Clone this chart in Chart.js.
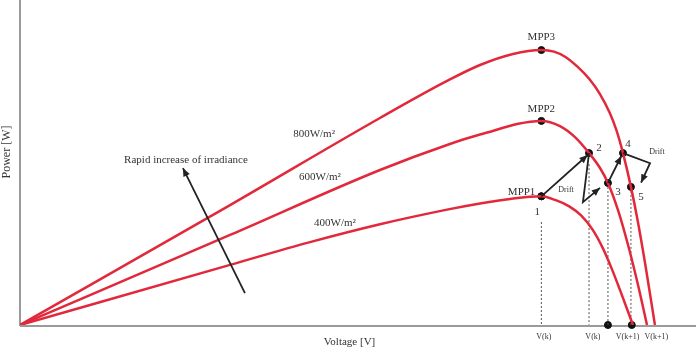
<!DOCTYPE html>
<html><head><meta charset="utf-8">
<script src="https://cdn.jsdelivr.net/npm/chart.js@4/dist/chart.umd.min.js"></script>
<style>html,body{margin:0;padding:0;background:#fff}canvas{display:block}</style>
</head><body>
<canvas id="c" width="696" height="355"></canvas>
<script>
// P-V curves (Voltage [V], Power [W])
const v800 = [0, 12.43, 21.30, 25.27, 27.22, 29.17, 30.85, 31.6, 32.3, 33.0, 33.7, 34.3, 34.9, 35.3, 35.68, 36.15, 36.55, 37.0, 37.57];
const p800 = [0, 36.9, 63.7, 75.1, 80.0, 83.4, 84.6, 84.1, 82.4, 79.4, 75.6, 71.2, 65.2, 59.8, 52.9, 42.5, 32.1, 18.6, 0];
const v600 = [0, 12.43, 21.30, 25.27, 27.22, 30.85, 31.95, 32.84, 33.67, 34.32, 34.79, 35.38, 35.98, 36.57, 37.10];
const p600 = [0, 27.7, 47.7, 55.4, 58.6, 62.8, 61.2, 57.8, 52.9, 48.3, 43.7, 35.4, 24.6, 12.3, 0];
const v400 = [0, 12.43, 17.16, 21.30, 25.27, 27.22, 29.0, 30.85, 31.7, 32.5, 33.2, 33.9, 34.5, 35.0, 35.5, 36.27];
const p400 = [0, 18.5, 25.5, 31.0, 35.5, 37.4, 38.8, 39.6, 38.4, 36.5, 33.7, 29.2, 23.5, 17.5, 10.8, 0];
const curveNames = ["800W/m\u00B2", "600W/m\u00B2", "400W/m\u00B2"];

// maximum power points
const mppV = [30.85, 30.85, 30.85];
const mppP = [39.6, 62.8, 84.6];
const mppNames = ["MPP1", "MPP2", "MPP3"];

// tracking points 1..5
const trackV = [30.85, 33.67, 34.79, 35.68, 36.15];
const trackP = [39.6, 52.9, 43.7, 52.9, 42.5];
const trackNames = ["1", "2", "3", "4", "5"];

// dotted guides (voltage, start power) and voltage labels
const guideV = [30.85, 33.67, 34.79, 36.15];
const guideTop = [31.7, 49.5, 43.7, 42.5];
const axisDotV = [34.79, 36.20];
const vLabelV = [31.0, 33.9, 35.95, 37.65];
const vLabels = ["V(k)", "V(k)", "V(k+1)", "V(k+1)"];

const pts = (xs, ys) => xs.map((x, i) => ({x: x, y: ys[i]}));
const RED = '#e2283b';

const datasets = [
  {label: curveNames[0], data: pts(v800, p800)},
  {label: curveNames[1], data: pts(v600, p600)},
  {label: curveNames[2], data: pts(v400, p400)}
].map(d => Object.assign(d, {borderColor: RED, borderWidth: 2.5, pointRadius: 0, cubicInterpolationMode: 'monotone', fill: false}));

guideV.forEach((v, i) => datasets.push({
  label: 'guide' + i, data: [{x: v, y: guideTop[i]}, {x: v, y: 0}],
  borderColor: '#555', borderWidth: 1, borderDash: [2, 2], pointRadius: 0
}));
datasets.push({label: 'mpp', data: pts(mppV, mppP), showLine: false, pointRadius: 3.5, pointBackgroundColor: '#111', pointBorderColor: '#111'});
datasets.push({label: 'track', data: pts(trackV, trackP), showLine: false, pointRadius: 3.5, pointBackgroundColor: '#111', pointBorderColor: '#111'});
datasets.push({label: 'axisdots', data: axisDotV.map(v => ({x: v, y: 0})), showLine: false, pointRadius: 3.5, pointBackgroundColor: '#111', pointBorderColor: '#111', clip: false});

function arrowHead(ctx, x0, y0, x1, y1, size) {
  const a = Math.atan2(y1 - y0, x1 - x0);
  ctx.beginPath();
  ctx.moveTo(x1, y1);
  ctx.lineTo(x1 - size * Math.cos(a - 0.4), y1 - size * Math.sin(a - 0.4));
  ctx.lineTo(x1 - size * Math.cos(a + 0.4), y1 - size * Math.sin(a + 0.4));
  ctx.closePath();
  ctx.fill();
}

const deco = {
  id: 'deco',
  beforeDatasetsDraw(chart) {
    const ctx = chart.ctx, a = chart.chartArea;
    ctx.save();
    ctx.strokeStyle = '#9a9a9a';
    ctx.lineWidth = 2;
    ctx.beginPath();
    ctx.moveTo(a.left, 0); ctx.lineTo(a.left, a.bottom + 1);
    ctx.moveTo(a.left, a.bottom + 1); ctx.lineTo(chart.width, a.bottom + 1);
    ctx.stroke();
    ctx.restore();
  },
  afterDatasetsDraw(chart) {
    const ctx = chart.ctx, xs = chart.scales.x, ys = chart.scales.y;
    const X = v => xs.getPixelForValue(v), Y = p => ys.getPixelForValue(p);
    ctx.save();
    // arrows (polyline, head at end)
    const arrows = [
      [[trackV[0], trackP[0]], [trackV[1] - 0.08, trackP[1] - 0.6]],
      [[trackV[1], trackP[1]], [33.31, 37.8], [34.32, 42.2]],
      [[trackV[2], trackP[2]], [35.58, 52.0]],
      [[trackV[3], trackP[3]], [37.28, 49.8], [36.75, 43.8]],
      [[13.31, 9.8], [9.64, 48.3]]
    ];
    ctx.strokeStyle = '#222'; ctx.fillStyle = '#222'; ctx.lineWidth = 1.8;
    arrows.forEach(pl => {
      ctx.beginPath();
      pl.forEach((p, i) => i ? ctx.lineTo(X(p[0]), Y(p[1])) : ctx.moveTo(X(p[0]), Y(p[1])));
      ctx.stroke();
      const n = pl.length;
      arrowHead(ctx, X(pl[n - 2][0]), Y(pl[n - 2][1]), X(pl[n - 1][0]), Y(pl[n - 1][1]), 9);
    });
    // texts
    ctx.fillStyle = '#333';
    ctx.textBaseline = 'middle';
    ctx.textAlign = 'center';
    ctx.font = '11px "Liberation Serif"';
    ctx.fillText(mppNames[2], X(mppV[2]), Y(mppP[2]) - 13);
    ctx.fillText(mppNames[1], X(mppV[1]), Y(mppP[1]) - 12);
    ctx.textAlign = 'right';
    ctx.fillText(mppNames[0], X(mppV[0]) - 6, Y(mppP[0]) - 4);
    ctx.textAlign = 'center';
    const off = [[-4, 16], [10, -5], [10, 9], [5, -9], [10, 10]];
    trackNames.forEach((t, i) => ctx.fillText(t, X(trackV[i]) + off[i][0], Y(trackP[i]) + off[i][1]));
    ctx.font = '8px "Liberation Serif"';
    ctx.fillText('Drift', X(32.31), Y(41.5));
    ctx.fillText('Drift', X(37.69), Y(53.2));
    vLabels.forEach((t, i) => ctx.fillText(t, X(vLabelV[i]), Y(0) + 12));
    ctx.font = '11px "Liberation Serif"';
    ctx.fillText(curveNames[0], X(17.40), Y(58.8));
    ctx.fillText(curveNames[1], X(17.75), Y(45.5));
    ctx.fillText(curveNames[2], X(18.64), Y(31.4));
    ctx.fillText('Rapid increase of irradiance', X(9.82), Y(50.8));
    ctx.fillText('Voltage [V]', X(19.5), Y(0) + 17);
    ctx.translate(7, 152);
    ctx.rotate(-Math.PI / 2);
    ctx.font = '12px "Liberation Serif"';
    ctx.fillText('Power [W]', 0, 0);
    ctx.restore();
  }
};

new Chart(document.getElementById('c'), {
  type: 'line',
  data: {datasets: datasets},
  options: {
    responsive: false,
    animation: false,
    layout: {autoPadding: false, padding: {left: 20, right: 0, top: 0, bottom: 30}},
    plugins: {legend: {display: false}, tooltip: {enabled: false}},
    scales: {
      x: {type: 'linear', min: 0, max: 40, display: false},
      y: {type: 'linear', min: 0, max: 100, display: false}
    }
  },
  plugins: [deco]
});
</script>
</body></html>
